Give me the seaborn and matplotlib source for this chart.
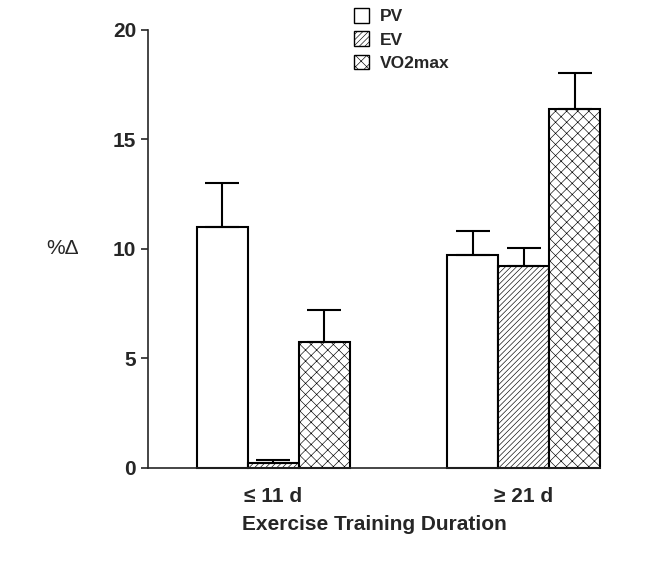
import pandas as pd
import matplotlib.pyplot as plt
import seaborn as sns

# valores
grupos = ['≤ 11 d', '≥ 21 d']
variables = ['PV', 'EV', 'VO2max']
pv = [11.0, 9.7]
ev = [0.2, 9.2]
vo2 = [5.75, 16.4]
pv_err = [2.0, 1.1]
ev_err = [0.15, 0.85]
vo2_err = [1.45, 1.65]

df = pd.DataFrame({
    'grupo': grupos * 3,
    'variable': [v for v in variables for _ in grupos],
    'valor': pv + ev + vo2,
    'err': pv_err + ev_err + vo2_err,
})

sns.set_style('ticks')
plt.rcParams['font.family'] = ['Liberation Sans', 'DejaVu Sans']
plt.rcParams['hatch.linewidth'] = 0.45

fig = plt.figure(figsize=(6.49, 5.63), dpi=100)
ax = fig.add_axes([0.228, 0.169, 0.697, 0.778])

sns.barplot(data=df, x='grupo', y='valor', hue='variable', order=grupos,
            hue_order=variables, palette=['white'] * 3, edgecolor='black',
            linewidth=1.5, width=0.61, errorbar=None, ax=ax)

tramas = ['', '//////', 'xxx']
for cont, trama, v in zip(ax.containers, tramas, variables):
    sub = df[df['variable'] == v].set_index('grupo').loc[grupos]
    xs = []
    for p in cont.patches:
        p.set_hatch(trama)
        p.set_clip_on(False)
        xs.append(p.get_x() + p.get_width() / 2)
    ax.errorbar(xs, sub['valor'], yerr=[[0] * len(xs), sub['err']], fmt='none',
                ecolor='black', elinewidth=1.5, capsize=12, capthick=1.5)

ax.set_xlim(-0.5, 1.305)
ax.set_ylim(0, 20)
ax.set_yticks([0, 5, 10, 15, 20])
ax.tick_params(axis='y', labelsize=15, width=1.2, length=5)
ax.tick_params(axis='x', labelsize=15, length=0, pad=14)
for lab in ax.get_xticklabels() + ax.get_yticklabels():
    lab.set_fontweight('bold')
ax.spines['right'].set_visible(False)
ax.spines['top'].set_visible(False)
ax.spines['left'].set_linewidth(1.2)
ax.spines['bottom'].set_linewidth(1.2)

ax.set_xlabel('Exercise Training Duration', fontsize=15, fontweight='bold', labelpad=6)
ax.set_ylabel('%Δ', fontsize=15, rotation=0, labelpad=36, va='center')

h, l = ax.get_legend_handles_labels()
for hh, t in zip(h, tramas):
    hh.set_hatch(t)
    hh.set_linewidth(1.0)
ax.legend(h, l, loc='upper left', bbox_to_anchor=(0.42, 1.085), frameon=False,
          handlelength=0.9, handleheight=0.9, handletextpad=0.6, labelspacing=0.4,
          prop={'weight': 'bold', 'size': 12.5})

fig.savefig('out.png', dpi=100)
